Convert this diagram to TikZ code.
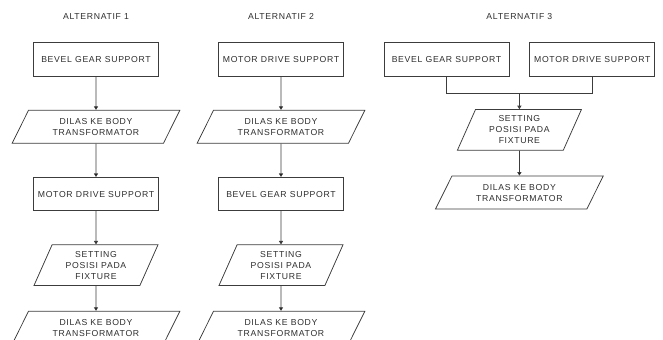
\documentclass[tikz,border=0pt]{standalone}
\usepackage{fontspec}
\newfontfamily\flowfont[LetterSpace=8]{Liberation Sans}
\usepackage{tikz}
\usetikzlibrary{positioning,calc,shapes.geometric,arrows.meta}
\definecolor{LineGray}{RGB}{60,60,60}
\definecolor{TextGray}{RGB}{45,45,45}
\tikzstyle{every picture}+=[font=\flowfont\fontsize{7.4}{9.4}\selectfont]
\tikzset{%
  component/.style={%
    draw=LineGray, line width=.65pt, text=TextGray, minimum width=3.75cm,
    minimum height=1cm, inner xsep=2pt, text centered
  },
  process/.style={%
    shape=trapezium, draw=LineGray, line width=.65pt, text=TextGray,
    trapezium left angle=61, trapezium right angle=119,
    trapezium stretches=true, minimum width=5.04cm, minimum height=.99cm,
    inner sep=1pt, align=center
  },
  setting/.style={%
    process, trapezium left angle=67, trapezium right angle=113,
    minimum width=3.75cm, minimum height=1.22cm
  },
  title/.style={text=TextGray},
  arrow/.style={draw=LineGray, line width=.65pt, ->, >={Triangle[length=3pt,width=3.5pt]}},
  line/.style={draw=LineGray, line width=.65pt},
}

\begin{document}
\begin{tikzpicture}
    \useasboundingbox (0,0) rectangle (19.89,10.2);

    % alternatif 1
    \node (BEVELA)[component] at (2.88,8.415) {BEVEL GEAR SUPPORT};
    \node (TITLEA)[title, above=.55cm of BEVELA] {ALTERNATIF 1};
    \node (DILASA)[process, below=1cm of BEVELA] {DILAS KE BODY\\TRANSFORMATOR};
    \node (MOTORA)[component, below=1cm of DILASA] {MOTOR DRIVE SUPPORT};
    \node (SETTINGA)[setting, below=1cm of MOTORA] {SETTING\\POSISI PADA\\FIXTURE};
    \node (WELDA)[process, below=.75cm of SETTINGA] {DILAS KE BODY\\TRANSFORMATOR};

    % alternatif 2
    \node (MOTORB)[component] at (8.43,8.415) {MOTOR DRIVE SUPPORT};
    \node (TITLEB)[title, above=.55cm of MOTORB] {ALTERNATIF 2};
    \node (DILASB)[process, below=1cm of MOTORB] {DILAS KE BODY\\TRANSFORMATOR};
    \node (BEVELB)[component, below=1cm of DILASB] {BEVEL GEAR SUPPORT};
    \node (SETTINGB)[setting, below=1cm of BEVELB] {SETTING\\POSISI PADA\\FIXTURE};
    \node (WELDB)[process, below=.75cm of SETTINGB] {DILAS KE BODY\\TRANSFORMATOR};

    % alternatif 3
    \node (BEVELC)[component] at (13.395,8.415) {BEVEL GEAR SUPPORT};
    \node (MOTORC)[component, right=.6cm of BEVELC] {MOTOR DRIVE SUPPORT};
    \coordinate (TOPC) at ($(BEVELC.north)!.5!(MOTORC.north)$);
    \coordinate (JOINC) at ($(BEVELC.south)!.5!(MOTORC.south)+(0,-.5)$);
    \node (TITLEC)[title, above=.55cm of TOPC] {ALTERNATIF 3};
    \node (SETTINGC)[setting, below=.48cm of JOINC] {SETTING\\POSISI PADA\\FIXTURE};
    \node (WELDC)[process, below=.75cm of SETTINGC] {DILAS KE BODY\\TRANSFORMATOR};

    \path[arrow]
        (BEVELA) edge (DILASA)
        (DILASA) edge (MOTORA)
        (MOTORA) edge (SETTINGA)
        (SETTINGA) edge (WELDA)
        (MOTORB) edge (DILASB)
        (DILASB) edge (BEVELB)
        (BEVELB) edge (SETTINGB)
        (SETTINGB) edge (WELDB)
        (SETTINGC) edge (WELDC)
    ;
    \draw[line] (BEVELC) |- (JOINC) -| (MOTORC);
    \draw[arrow] (JOINC) -- (SETTINGC.north);
\end{tikzpicture}
\end{document}
